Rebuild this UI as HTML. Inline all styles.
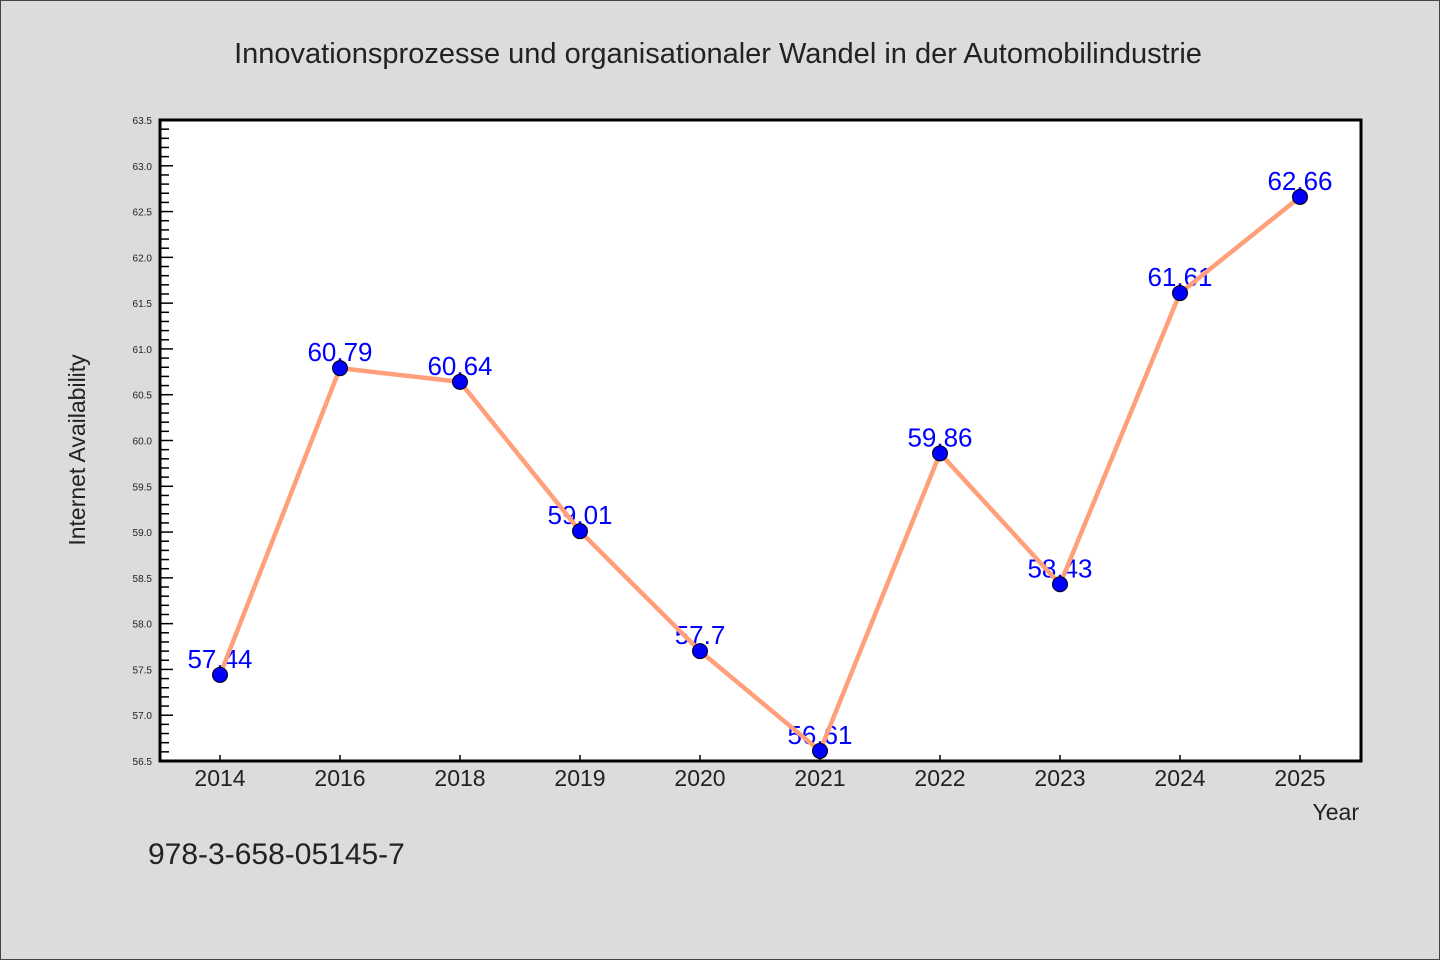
<!DOCTYPE html>
<html><head><meta charset="utf-8"><style>
html,body{margin:0;padding:0;background:#dcdcdc;}
svg{display:block;font-family:"WenQuanYi Zen Hei","Liberation Sans",sans-serif;}
</style></head><body>
<svg id="chart" width="1440" height="960" viewBox="0 0 1440 960">
<rect x="0.5" y="0.5" width="1439" height="959" fill="#dcdcdc" stroke="#444"/>
<text x="718" y="63" text-anchor="middle" font-size="29" fill="#222">Innovationsprozesse und organisationaler Wandel in der Automobilindustrie</text>
<rect x="160" y="120" width="1201" height="641" fill="#fff"/>
<g id="yaxis"></g>
<g id="xaxis"></g>
<g id="labels"></g>
<g id="series"></g>
<rect x="160" y="120" width="1201" height="641" fill="none" stroke="#000" stroke-width="3"/>
<text transform="translate(85,450) rotate(-90)" text-anchor="middle" font-size="23" fill="#222">Internet Availability</text>
<text x="1359" y="820" text-anchor="end" font-size="23" fill="#222">Year</text>
<text x="148" y="864" font-size="30" fill="#222">978-3-658-05145-7</text>
</svg>
<script>
const categories = ["2014","2016","2018","2019","2020","2021","2022","2023","2024","2025"];
const values = [57.44,60.79,60.64,59.01,57.7,56.61,59.86,58.43,61.61,62.66];
const valueLabels = ["57.44","60.79","60.64","59.01","57.7","56.61","59.86","58.43","61.61","62.66"];
const yTicks = ["56.5","57.0","57.5","58.0","58.5","59.0","59.5","60.0","60.5","61.0","61.5","62.0","62.5","63.0","63.5"];
const yMin = 56.5, yMax = 63.5;
const L=160,R=1361,T=120,B=761;
const NS="http://www.w3.org/2000/svg";
function y(v){return B-(v-yMin)/(yMax-yMin)*(B-T);}
function x(i){return L+60+i*120;}
function mk(tag,attrs,parent){const e=document.createElementNS(NS,tag);for(const k in attrs)e.setAttribute(k,attrs[k]);parent.appendChild(e);return e;}
const ya=document.getElementById('yaxis'),xa=document.getElementById('xaxis'),lg=document.getElementById('labels'),sg=document.getElementById('series');
for(let v=yMin;v<=yMax+1e-9;v+=0.1){
  const isMajor=Math.abs(Math.round(v*2)-v*2)<1e-6;
  const t=mk('line',{x1:L,x2:L+(isMajor?13:9),y1:y(v),y2:y(v),stroke:'#000','stroke-width':1.5},ya);
  
  
}
yTicks.forEach(s=>{
  const t=mk('text',{x:152,y:y(parseFloat(s))+4,'text-anchor':'end','font-size':10,fill:'#222'},ya);
  t.textContent=s;
  
  
});
categories.forEach((c,i)=>{
  const t=mk('line',{x1:x(i),x2:x(i),y1:B,y2:B-6,stroke:'#000','stroke-width':1.5},xa);
  
  
  const l=mk('text',{x:x(i),y:B+25,'text-anchor':'middle','font-size':23,fill:'#222'},xa);
  l.textContent=c;
  
  
});
values.forEach((v,i)=>{
  const t=mk('text',{x:x(i),y:y(v)-7,'text-anchor':'middle','font-size':26,fill:'#0000ff'},lg);
  t.textContent=valueLabels[i];
  
  
});
const pl=mk('polyline',{points:values.map((v,i)=>x(i)+','+y(v)).join(' '),fill:'none',stroke:'#ffa07a','stroke-width':4.5,'stroke-linejoin':'round'},sg);


values.forEach((v,i)=>{
  const c=mk('circle',{cx:x(i),cy:y(v),r:7.5,fill:'#0000ff',stroke:'#000','stroke-width':1},sg);
  
  
});
</script>
</body></html>
